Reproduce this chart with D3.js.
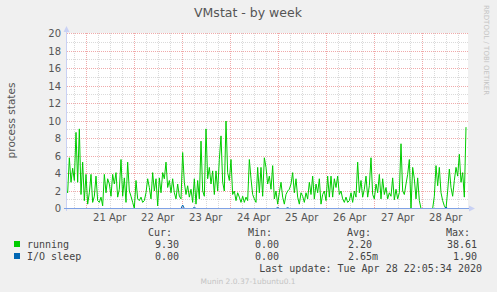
<!DOCTYPE html>
<html>
<head>
<meta charset="utf-8">
<style>
body { margin: 0; background: #F0F0F0; }
svg text { font-family: "DejaVu Sans", sans-serif; fill: #555; }
.mono { font-family: "DejaVu Sans Mono", monospace; font-size: 10px; fill: #444; }
</style>
<script src="https://cdn.jsdelivr.net/npm/d3@7"></script>
</head>
<body>
<div id="chart"></div>
<script>

// rrd style series: first sample time + step (50 min)
var sampleStart = new Date(Date.UTC(2020, 3, 20, 14, 9));
var sampleStepMin = 50;

var running = [
  2.2, 1.8, 5.8, 3.0, 4.6, 3.2, 8.7, 3.0, 9.1, 1.6, 5.3, 0.9, 3.9, 0.5, 1.8, 3.9, 0.7, 1.4, 3.7, 0.9,
  0.7, 1.3, 0.3, 3.9, 1.8, 3.4, 2.8, 1.4, 3.9, 2.8, 4.1, 1.3, 2.2, 5.6, 1.4, 3.5, 0.7, 5.3, 2.0, 1.4,
  0.7, 0.0, 3.2, 1.1, 0.9, 1.3, 0.7, 0.9, 1.8, 3.4, 2.4, 1.1, 4.1, 2.0, 3.4, 0.3, 3.5, 1.8, 4.1, 3.4,
  5.3, 2.4, 3.2, 1.8, 3.4, 1.8, 1.1, 2.8, 1.4, 1.1, 6.4, 3.0, 1.6, 2.6, 1.3, 2.2, 0.7, 3.4, 0.5, 3.2,
  1.1, 7.7, 2.0, 1.4, 9.1, 3.4, 4.7, 2.8, 4.3, 1.6, 4.3, 2.0, 5.6, 8.3, 3.0, 2.0, 10.0, 4.1, 3.2, 5.6,
  1.6, 2.0, 0.9, 1.8, 1.3, 0.7, 1.4, 0.7, 1.3, 0.9, 5.6, 3.4, 1.6, 1.1, 0.7, 4.7, 1.8, 4.7, 1.4, 5.8,
  4.7, 2.8, 3.7, 2.2, 4.9, 1.1, 2.0, 0.5, 1.8, 3.0, 1.3, 0.5, 1.6, 2.0, 2.2, 2.8, 4.1, 1.8, 3.4, 1.3,
  0.5, 1.8, 1.4, 0.7, 1.8, 1.1, 3.0, 1.6, 3.7, 1.1, 2.8, 1.8, 3.4, 0.5, 1.6, 2.0, 0.9, 3.7, 1.3, 3.7,
  1.3, 3.4, 2.4, 3.7, 1.6, 2.0, 1.1, 0.7, 1.3, 0.7, 0.9, 1.8, 0.7, 2.0, 1.3, 5.3, 1.8, 3.2, 1.3, 2.2,
  3.7, 1.3, 2.6, 5.8, 1.6, 1.1, 2.8, 1.8, 3.9, 1.1, 3.4, 1.6, 2.4, 1.1, 1.8, 1.4, 3.5, 1.0, 2.2, 1.1,
  1.8, 7.4, 2.0, 1.6, 2.8, 3.9, 5.6, 0.0, 4.7, 3.4, 1.1, 3.5, 0.9, 0.0, 0.0, 0.0, 0.0, 0.0, 0.0, 0.0,
  0.0, 1.4, 4.9, 2.6, 4.7, 1.8, 0.9, 0.3, 0.0, 2.0, 4.5, 2.4, 1.4, 3.2, 4.7, 3.7, 6.2, 3.0, 4.1, 1.3,
  9.3
];

var ioSleep = [
  0, 0, 0, 0, 0, 0, 0, 0, 0, 0, 0, 0, 0, 0, 0, 0, 0, 0, 0, 0,
  0, 0, 0, 0, 0, 0, 0, 0, 0, 0, 0, 0, 0, 0, 0, 0, 0, 0, 0, 0,
  0, 0, 0, 0, 0, 0, 0, 0, 0, 0, 0, 0, 0, 0, 0, 0, 0, 0, 0, 0,
  0, 0, 0, 0, 0, 0, 0, 0, 0, 0, 0.4, 0, 0, 0, 0, 0, 0, 0.15, 0, 0,
  0, 0, 0, 0, 0, 0, 0, 0, 0, 0, 0, 0, 0, 0, 0, 0, 0, 0, 0, 0,
  0, 0, 0, 0, 0, 0, 0, 0, 0, 0, 0, 0, 0, 0, 0, 0, 0, 0, 0, 0,
  0, 0, 0, 0, 0, 0, 0, 0.12, 0, 0, 0, 0, 0, 0.1, 0, 0, 0, 0, 0, 0,
  0, 0, 0, 0, 0, 0, 0, 0, 0, 0, 0, 0, 0, 0, 0, 0, 0, 0, 0, 0,
  0, 0, 0, 0, 0, 0, 0, 0, 0, 0, 0, 0, 0, 0, 0, 0, 0, 0, 0, 0,
  0, 0, 0, 0, 0, 0, 0, 0, 0, 0, 0, 0, 0, 0, 0, 0, 0, 0, 0, 0,
  0, 0, 0, 0, 0, 0, 0, 0, 0, 0, 0, 0, 0, 0, 0, 0, 0, 0, 0, 0,
  0, 0, 0, 0, 0, 0, 0, 0, 0.15, 0, 0, 0, 0, 0, 0, 0, 0, 0, 0, 0,
  0
];

var yTicks = [0, 2, 4, 6, 8, 10, 12, 14, 16, 18, 20];
var dayLabels = ["21 Apr", "22 Apr", "23 Apr", "24 Apr", "25 Apr", "26 Apr", "27 Apr", "28 Apr"];

var seriesNames = ["running", "I/O sleep"];
var seriesColors = ["#00CC00", "#0066B3"];
var statHeaders = ["Cur:", "Min:", "Avg:", "Max:"];
var statsRunning = ["9.30", "0.00", "2.20", "38.61"];
var statsIo = ["0.00", "0.00", "2.65m", "1.90"];

var W = 497, H = 292;
var plotL = 67, plotR = 468, plotT = 33, plotB = 208;

var svg = d3.select("#chart").append("svg")
  .attr("width", W)
  .attr("height", H);

svg.append("rect").attr("width", W).attr("height", H).attr("fill", "#F0F0F0");
svg.append("rect")
  .attr("x", plotL).attr("y", plotT)
  .attr("width", plotR - plotL).attr("height", plotB - plotT)
  .attr("fill", "#fff");

// scales
var x = d3.scaleUtc()
  .domain([new Date(Date.UTC(2020, 3, 20, 14, 39)), new Date(Date.UTC(2020, 3, 28, 23, 9))])
  .range([plotL, plotR]);
var y = d3.scaleLinear().domain([0, 20]).range([plotB, plotT]);

function px(v) { return Math.round(v) + 0.5; }

// horizontal grid: minor every 1, major every 2
var minorY = d3.range(1, 21, 2);
svg.append("g").selectAll("line")
  .data(minorY).enter().append("line")
  .attr("x1", plotL).attr("x2", plotR)
  .attr("y1", function(d) { return px(y(d)); })
  .attr("y2", function(d) { return px(y(d)); })
  .attr("stroke", "#DADADA").attr("stroke-dasharray", "1,1");

// vertical grid: minor every 6 hours, major at midnight
var sixHours = d3.utcHour.every(6).range(x.domain()[0], x.domain()[1])
  .filter(function(d) { return d.getUTCHours() != 0; });
var midnights = d3.utcDay.range(x.domain()[0], x.domain()[1]);

svg.append("g").selectAll("line")
  .data(sixHours).enter().append("line")
  .attr("x1", function(d) { return px(x(d)); })
  .attr("x2", function(d) { return px(x(d)); })
  .attr("y1", plotT).attr("y2", plotB)
  .attr("stroke", "#DADADA").attr("stroke-dasharray", "1,1");

svg.append("g").selectAll("line")
  .data(yTicks.slice(1)).enter().append("line")
  .attr("x1", plotL).attr("x2", plotR)
  .attr("y1", function(d) { return px(y(d)); })
  .attr("y2", function(d) { return px(y(d)); })
  .attr("stroke", "#F0AAAA").attr("stroke-dasharray", "1,1");

svg.append("g").selectAll("line")
  .data(midnights).enter().append("line")
  .attr("x1", function(d) { return px(x(d)); })
  .attr("x2", function(d) { return px(x(d)); })
  .attr("y1", plotT).attr("y2", plotB)
  .attr("stroke", "#F0AAAA").attr("stroke-dasharray", "1,1");

// y tick labels
svg.append("g").selectAll("text")
  .data(yTicks).enter().append("text")
  .attr("x", 61)
  .attr("y", function(d) { return y(d) + 4; })
  .attr("text-anchor", "end")
  .style("font-size", "10px")
  .text(function(d) { return d; });

// x tick labels at noon
svg.append("g").selectAll("text")
  .data(dayLabels).enter().append("text")
  .attr("x", function(d, i) { return x(d3.utcHour.offset(midnights[i], 12)); })
  .attr("y", 221)
  .attr("text-anchor", "middle")
  .style("font-size", "10px")
  .text(function(d) { return d; });

// data lines
svg.append("clipPath").attr("id", "clip")
  .append("rect").attr("x", plotL).attr("y", plotT - 2)
  .attr("width", plotR - plotL).attr("height", plotB - plotT + 4);

function timeAt(i) { return d3.utcMinute.offset(sampleStart, i * sampleStepMin); }

var line = d3.line()
  .x(function(d, i) { return x(timeAt(i)); })
  .y(function(d) { return y(d) + 0.5; });

var lines = svg.append("g").attr("clip-path", "url(#clip)");
lines.append("path").datum(running)
  .attr("d", line).attr("fill", "none")
  .attr("stroke", seriesColors[0]).attr("stroke-width", 1);
lines.append("path").datum(ioSleep)
  .attr("d", line).attr("fill", "none")
  .attr("stroke", seriesColors[1]).attr("stroke-width", 1);

// axes with arrow heads
svg.append("line")
  .attr("x1", plotL - 0.5).attr("x2", plotL - 0.5)
  .attr("y1", plotT - 2).attr("y2", plotB + 3)
  .attr("stroke", "#C9D1F4");
svg.append("line")
  .attr("x1", plotL - 3).attr("x2", plotR + 2)
  .attr("y1", plotB + 0.5).attr("y2", plotB + 0.5)
  .attr("stroke", "#7FA2E6");
svg.append("path")
  .attr("d", "M" + (plotL - 3.5) + "," + (plotT - 1) + "L" + (plotL + 2.5) + "," + (plotT - 1) + "L" + (plotL - 0.5) + "," + (plotT - 7) + "Z")
  .attr("fill", "#C9D1F4");
svg.append("path")
  .attr("d", "M" + (plotR + 1) + "," + (plotB - 2.5) + "L" + (plotR + 1) + "," + (plotB + 3.5) + "L" + (plotR + 7) + "," + (plotB + 0.5) + "Z")
  .attr("fill", "#C9D1F4");

// title and side labels
svg.append("text")
  .attr("x", 248).attr("y", 17)
  .attr("text-anchor", "middle")
  .style("font-size", "12.5px")
  .text("VMstat - by week");

svg.append("text")
  .attr("transform", "translate(15," + ((plotT + plotB) / 2) + ")rotate(-90)")
  .attr("text-anchor", "middle")
  .style("font-size", "10.5px")
  .text("process states");

svg.append("text")
  .attr("transform", "translate(484,5)rotate(90)")
  .attr("text-anchor", "start")
  .style("font-size", "7px")
  .style("fill", "#C4C4C4")
  .text("RRDTOOL / TOBI OETIKER");

// legend
var headerX = [172, 272, 371, 470];
svg.append("g").selectAll("text")
  .data(statHeaders).enter().append("text")
  .attr("class", "mono")
  .attr("x", function(d, i) { return headerX[i]; })
  .attr("y", 236)
  .attr("text-anchor", "end")
  .text(function(d) { return d; });

var valueX = [155, 255, 354, 447];
var rows = [statsRunning, statsIo];
rows.forEach(function(vals, r) {
  var ry = 248 + r * 12;
  svg.append("rect")
    .attr("x", 14).attr("y", ry - 7)
    .attr("width", 6).attr("height", 6)
    .attr("fill", seriesColors[r]);
  svg.append("text").attr("class", "mono")
    .attr("x", 27).attr("y", ry)
    .text(seriesNames[r]);
  svg.append("g").selectAll("text")
    .data(vals).enter().append("text")
    .attr("class", "mono")
    .attr("x", function(d, i) { return i == 3 ? 477 : (i == 2 ? 378 : valueX[i] + 24); })
    .attr("y", ry)
    .attr("text-anchor", "end")
    .text(function(d, i) { return (i == 2 && d.slice(-1) != "m") ? d + "\u00a0" : d; });
});

svg.append("text").attr("class", "mono")
  .attr("x", 482).attr("y", 272)
  .attr("text-anchor", "end")
  .text("Last update: Tue Apr 28 22:05:34 2020");

svg.append("text")
  .attr("x", 248).attr("y", 284)
  .attr("text-anchor", "middle")
  .style("font-size", "7.5px")
  .style("fill", "#C4C4C4")
  .text("Munin 2.0.37-1ubuntu0.1");

</script>
</body>
</html>
